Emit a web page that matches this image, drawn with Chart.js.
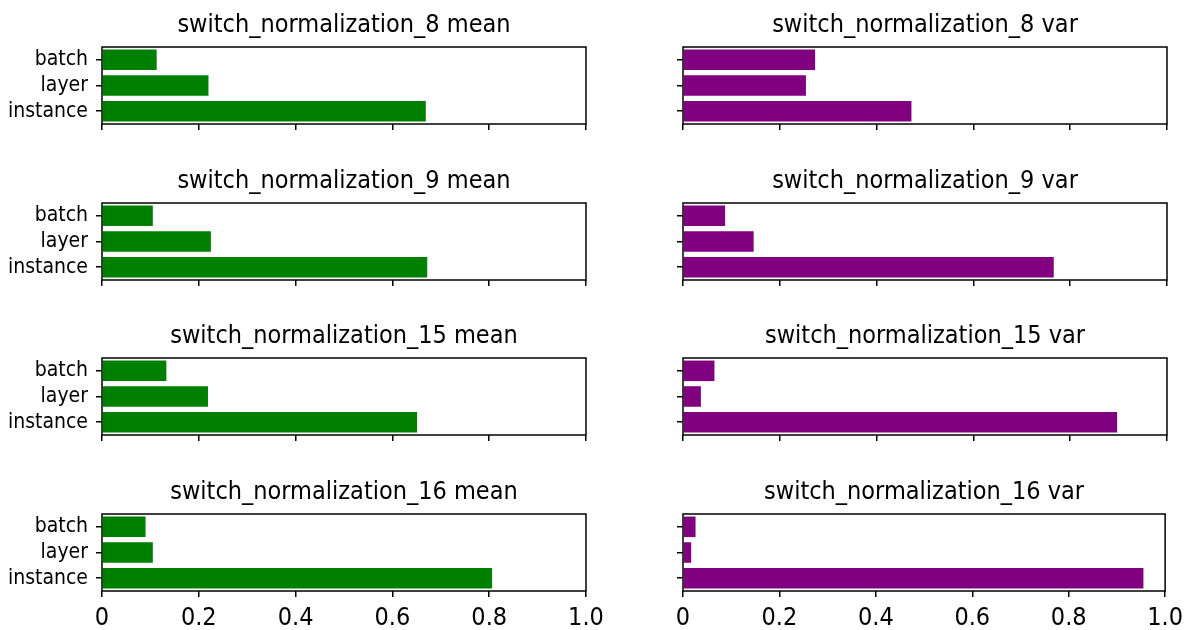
<!DOCTYPE html>
<html>
<head>
<meta charset="utf-8">
<script src="https://cdn.jsdelivr.net/npm/chart.js@4/dist/chart.umd.min.js"></script>
<style>
  html, body { margin: 0; padding: 0; background: #fff; }
  #page { position: relative; width: 1192px; height: 630px; overflow: hidden; }
  #page canvas { position: absolute; }
</style>
</head>
<body>
<div id="page"></div>
<script>
'use strict';

// DANE

const categories = ['batch', 'layer', 'instance'];
const layerNames = ['switch_normalization_8', 'switch_normalization_9', 'switch_normalization_15', 'switch_normalization_16'];

const mean8 = [0.113, 0.220, 0.669];
const mean9 = [0.105, 0.225, 0.672];
const mean15 = [0.133, 0.219, 0.651];
const mean16 = [0.090, 0.105, 0.806];

const var8 = [0.273, 0.254, 0.472];
const var9 = [0.087, 0.146, 0.766];
const var15 = [0.065, 0.037, 0.897];
const var16 = [0.026, 0.017, 0.955];

const meanValues = [mean8, mean9, mean15, mean16];
const varValues = [var8, var9, var15, var16];

const xTicks = [0, 0.2, 0.4, 0.6, 0.8, 1.0];
const xTickLabels = ['0', '0.2', '0.4', '0.6', '0.8', '1.0'];

// USTAWIENIA

Chart.defaults.font.family = '"DejaVu Sans Condensed", "DejaVu Sans", sans-serif';
Chart.defaults.color = '#000';

const plotTops = [47, 203, 358, 514];
const plotHeight = 77;
const titleSpace = 47;

// ramka dookola obszaru wykresu
const framePlugin = {
  id: 'frame',
  afterDraw: function(chart) {
    const a = chart.chartArea;
    const ctx = chart.ctx;
    ctx.save();
    ctx.strokeStyle = '#000';
    ctx.lineWidth = 1.5;
    ctx.strokeRect(a.left, a.top, a.right - a.left, a.bottom - a.top);
    ctx.restore();
  }
};

function makeChart(row, col) {
  const last = row === plotTops.length - 1;
  const left = col === 0 ? 0 : 620;
  const width = col === 0 ? 620 : 572;
  const yWidth = col === 0 ? 102 : 63;
  const padRight = col === 0 ? 34 : 25;
  const xHeight = last ? 39 : 10;
  const top = plotTops[row] - titleSpace;
  const height = titleSpace + plotHeight + xHeight;

  const canvas = document.createElement('canvas');
  canvas.width = width;
  canvas.height = height;
  canvas.style.left = left + 'px';
  canvas.style.top = top + 'px';
  document.getElementById('page').appendChild(canvas);

  const values = col === 0 ? meanValues[row] : varValues[row];
  const color = col === 0 ? '#008000' : '#800080';
  const title = layerNames[row] + (col === 0 ? ' mean' : ' var');

  return new Chart(canvas.getContext('2d'), {
    type: 'bar',
    data: {
      labels: categories,
      datasets: [{
        data: values,
        backgroundColor: color,
        borderWidth: 0,
        barPercentage: 0.8,
        categoryPercentage: 1
      }]
    },
    options: {
      indexAxis: 'y',
      responsive: false,
      animation: false,
      layout: { padding: { left: 0, right: padRight, top: 0, bottom: 0 } },
      plugins: {
        legend: { display: false },
        tooltip: { enabled: false },
        title: {
          display: true,
          text: title,
          fullSize: false,
          color: '#000',
          font: { size: 25, weight: 'normal', lineHeight: 1.2 },
          padding: { top: 10, bottom: 7 }
        }
      },
      scales: {
        x: {
          type: 'linear',
          min: 0,
          max: 1,
          border: { display: false },
          grid: { drawOnChartArea: false, drawTicks: true, tickLength: 6, color: '#000', lineWidth: 1.5 },
          afterBuildTicks: function(scale) {
            scale.ticks = xTicks.map(function(v) { return { value: v }; });
          },
          afterFit: function(scale) { scale.height = xHeight; },
          ticks: {
            display: last,
            padding: 9,
            maxRotation: 0,
            autoSkip: false,
            font: { size: 25, lineHeight: 1 },
            callback: function(value, index) { return xTickLabels[index]; }
          }
        },
        y: {
          border: { display: false },
          grid: { offset: false, drawOnChartArea: false, drawTicks: true, tickLength: 6, color: '#000', lineWidth: 1.5 },
          afterFit: function(scale) {
            scale.width = yWidth;
            // etykiety nie moga zmniejszac obszaru wykresu
            scale.paddingTop = 0;
            scale.paddingBottom = 0;
          },
          ticks: {
            display: col === 0,
            autoSkip: false,
            padding: 8,
            font: { size: 21, lineHeight: 1 }
          }
        }
      }
    },
    plugins: [framePlugin]
  });
}

for (let r = 0; r < plotTops.length; r++) {
  makeChart(r, 0);
  makeChart(r, 1);
}
</script>
</body>
</html>
